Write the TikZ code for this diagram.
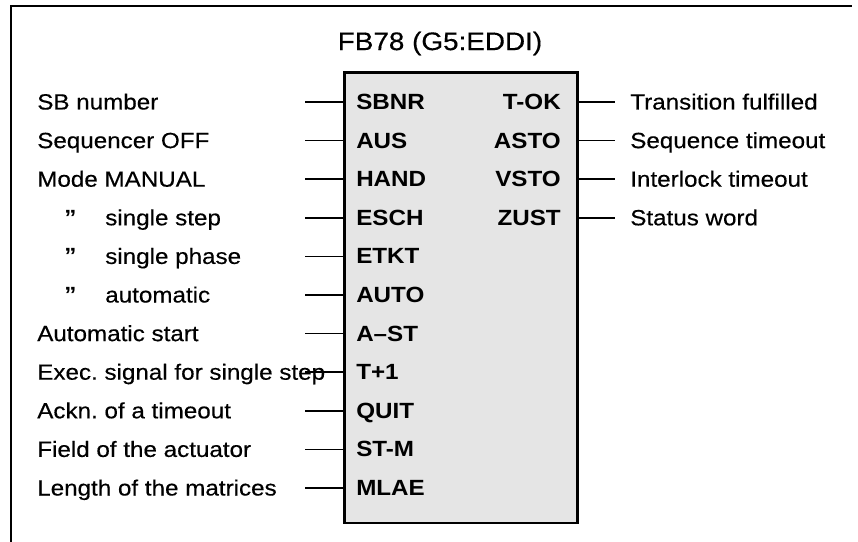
\documentclass[tikz,border=0pt]{standalone}
\usepackage{fontspec}
\setmainfont[FakeStretch=1.1,UprightFeatures={FakeBold=0.4}]{Liberation Sans}
\usepackage{tikz}
\frenchspacing

\begin{document}
\begin{tikzpicture}[x=0.75pt,y=-0.75pt,
  every node/.style={font=\fontsize{16.5}{20}\selectfont,inner sep=0pt},
  pinl/.style={anchor=base west,font=\fontsize{16.5}{20}\selectfont\bfseries},
  pinr/.style={anchor=base east,font=\fontsize{16.5}{20}\selectfont\bfseries},
  desc/.style={anchor=base west},
  wire/.style={line width=1.2pt}]
\useasboundingbox (0,0) rectangle (858,542);
\draw[line width=0.9pt] (11,542) -- (11,6) -- (852,6);
\node (title) at (440,43.5) {\fontsize{19}{22}\selectfont FB78 (G5:EDDI)};
\node[draw,line width=2pt,fill=gray!20,anchor=north west,
  minimum width=175pt,minimum height=338pt] (fb) at (343,71) {};
% inputs
\node[desc] (sbnrd) at (37,109.5) {SB number};
\coordinate (sbnrw) at (305,102);
\node[pinl] (sbnr) at (356,109.5) {SBNR};
\draw[wire] (sbnrw) -- (sbnrw -| fb.west);
\node[desc] (ausd) at (37,148.1) {Sequencer OFF};
\coordinate (ausw) at (305,140.6);
\node[pinl] (aus) at (356,148.1) {AUS};
\draw[wire] (ausw) -- (ausw -| fb.west);
\node[desc] (handd) at (37,186.7) {Mode MANUAL};
\coordinate (handw) at (305,179.2);
\node[pinl] (hand) at (356,186.7) {HAND};
\draw[wire] (handw) -- (handw -| fb.west);
\node[desc] (eschq) at (64,225.3) {\bfseries ”};
\node[desc] (eschd) at (105,225.3) {single step};
\coordinate (eschw) at (305,217.8);
\node[pinl] (esch) at (356,225.3) {ESCH};
\draw[wire] (eschw) -- (eschw -| fb.west);
\node[desc] (etktq) at (64,263.9) {\bfseries ”};
\node[desc] (etktd) at (105,263.9) {single phase};
\coordinate (etktw) at (305,256.4);
\node[pinl] (etkt) at (356,263.9) {ETKT};
\draw[wire] (etktw) -- (etktw -| fb.west);
\node[desc] (autoq) at (64,302.5) {\bfseries ”};
\node[desc] (autod) at (105,302.5) {automatic};
\coordinate (autow) at (305,295);
\node[pinl] (auto) at (356,302.5) {AUTO};
\draw[wire] (autow) -- (autow -| fb.west);
\node[desc] (astd) at (37,341.1) {Automatic start};
\coordinate (astw) at (305,333.6);
\node[pinl] (ast) at (356,341.1) {A--ST};
\draw[wire] (astw) -- (astw -| fb.west);
\node[desc] (tpd) at (37,379.7) {Exec. signal for single step};
\coordinate (tpw) at (305,372.2);
\node[pinl] (tp) at (356,379.7) {T+1};
\draw[wire] (tpw) -- (tpw -| fb.west);
\node[desc] (quitd) at (37,418.3) {Ackn. of a timeout};
\coordinate (quitw) at (305,410.8);
\node[pinl] (quit) at (356,418.3) {QUIT};
\draw[wire] (quitw) -- (quitw -| fb.west);
\node[desc] (stmd) at (37,456.9) {Field of the actuator};
\coordinate (stmw) at (305,449.4);
\node[pinl] (stm) at (356,456.9) {ST-M};
\draw[wire] (stmw) -- (stmw -| fb.west);
\node[desc] (mlaed) at (37,495.5) {Length of the matrices};
\coordinate (mlaew) at (305,488);
\node[pinl] (mlae) at (356,495.5) {MLAE};
\draw[wire] (mlaew) -- (mlaew -| fb.west);
% outputs
\node[pinr] (tok) at (561,109.5) {T-OK};
\coordinate (tokw) at (615,102);
\draw[wire] (tokw -| fb.east) -- (tokw);
\node[desc] (tokd) at (630,109.5) {Transition fulfilled};
\node[pinr] (asto) at (561,148.1) {ASTO};
\coordinate (astow) at (615,140.6);
\draw[wire] (astow -| fb.east) -- (astow);
\node[desc] (astod) at (630,148.1) {Sequence timeout};
\node[pinr] (vsto) at (561,186.7) {VSTO};
\coordinate (vstow) at (615,179.2);
\draw[wire] (vstow -| fb.east) -- (vstow);
\node[desc] (vstod) at (630,186.7) {Interlock timeout};
\node[pinr] (zust) at (561,225.3) {ZUST};
\coordinate (zustw) at (615,217.8);
\draw[wire] (zustw -| fb.east) -- (zustw);
\node[desc] (zustd) at (630,225.3) {Status word};
\end{tikzpicture}
\end{document}
